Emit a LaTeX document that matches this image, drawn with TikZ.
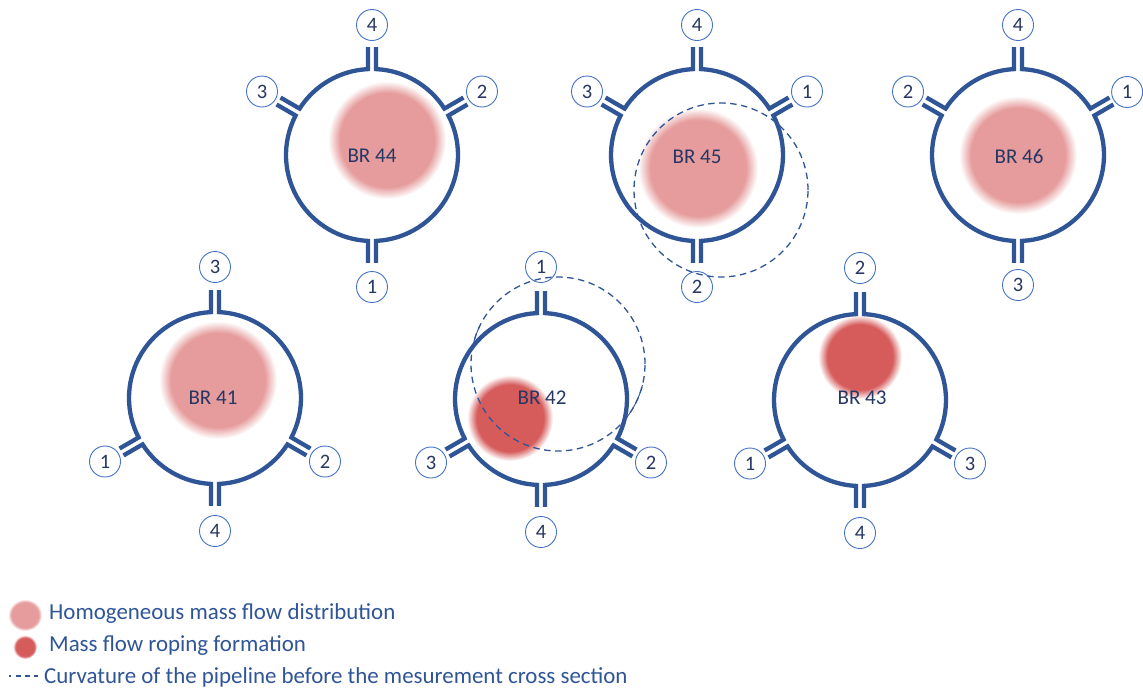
\documentclass[tikz,border=0pt]{standalone}
\usepackage{fontspec}
\setmainfont{Carlito}
\usetikzlibrary{calc}

\definecolor{pipeblue}{RGB}{47,85,151}
\definecolor{ringblue}{RGB}{68,114,196}
\definecolor{navytext}{RGB}{38,55,100}
\definecolor{legendtext}{RGB}{47,85,151}
\definecolor{blobLight}{RGB}{230,156,156}
\definecolor{blobDark}{RGB}{214,92,92}

% soft-edged blobs: solid core, fading to white at the rim of the shaded path
\pgfdeclareradialshading{lightblob}{\pgfpointorigin}{%
  color(0bp)=(blobLight); color(20bp)=(blobLight);
  color(25bp)=(white); color(50bp)=(white)}
\pgfdeclareradialshading{darkblob}{\pgfpointorigin}{%
  color(0bp)=(blobDark); color(19.5bp)=(blobDark);
  color(25bp)=(white); color(50bp)=(white)}

% pipe geometry (1 unit = 1pt)
\def\PR{86}    % pipe radius
\def\PL{108}   % outer end of the port stubs
\def\si{2.67}  % half gap of a port on the pipe wall (deg)
\def\so{2.12}  % same half gap at the stub ends (deg)

\tikzset{
  pipe/.style={draw=pipeblue, line width=4.3pt, line join=miter},
  portnum/.style={circle, draw=ringblue, line width=0.9pt, fill=white,
    minimum size=31pt, inner sep=0pt, text=navytext,
    font=\fontsize{20.5}{22}\selectfont},
  brlabel/.style={text=navytext, font=\fontsize{21}{24}\selectfont, inner sep=0pt},
  bendcircle/.style={draw=pipeblue, line width=1.3pt, dash pattern=on 6.5pt off 4.5pt},
  legendtext/.style={anchor=west, text=legendtext, inner sep=0pt,
    font=\fontsize{22.9}{26}\selectfont}
}

% #1 centre name, #2 x, #3 y (downwards), #4 wall segments between ports,
% #5 angle/number/distance triples of the port numbers
\newcommand{\pipesection}[5]{%
  \begin{scope}[shift={(#2,-#3)}]
    \coordinate (#1) at (0,0);
    \foreach \a/\b in {#4} {
      \draw[pipe] (\a+\so:\PL) -- (\a+\si:\PR)
        arc[start angle=\a+\si, end angle=\b-\si, radius=\PR]
        -- (\b-\so:\PL);
    }
    \foreach \ang/\num/\dist in {#5} {
      \node[portnum] (#1-\num) at (\ang:\dist) {\num};
    }
  \end{scope}}

\begin{document}
\begin{tikzpicture}[x=1pt, y=1pt]
  \useasboundingbox[fill=white] (0,0) rectangle (1143,-689);

  % mass flow blobs (drawn first, under everything)
  \shade[shading=lightblob] (387,-140) circle (59);
  \shade[shading=lightblob] (698,-168) circle (60);
  \shade[shading=lightblob] (1018,-155) circle (59);
  \shade[shading=lightblob] (218,-380) circle (59);
  \shade[shading=darkblob]  (510,-418) circle (43);
  \shade[shading=darkblob]  (860,-357) circle (42);

  % upper row
  \pipesection{br44c}{372}{155}{30/90,90/150,150/270,270/390}{30/2/127,90/4/130,150/3/127,270/1/132}
  \pipesection{br45c}{697}{155}{30/90,90/150,150/270,270/390}{30/1/127,90/4/130,150/3/127,270/2/132}
  \pipesection{br46c}{1018}{155}{30/90,90/150,150/270,270/390}{30/1/126,90/4/130,150/2/127,270/3/130}
  % lower row
  \pipesection{br41c}{215}{398}{-30/90,90/210,210/270,270/330}{90/3/131,210/1/127,270/4/133,330/2/127}
  \pipesection{br42c}{541}{399}{-30/90,90/210,210/270,270/330}{90/1/132,210/3/127,270/4/133,330/2/127}
  \pipesection{br43c}{860}{400}{-30/90,90/210,210/270,270/330}{90/2/132,210/1/127,270/4/133,330/3/127}

  % section names
  \node[brlabel] (br44) at (372,-156) {BR 44};
  \node[brlabel] (br45) at (697,-157) {BR 45};
  \node[brlabel] (br46) at (1019,-156) {BR 46};
  \node[brlabel] (br41) at (213,-398) {BR 41};
  \node[brlabel] (br42) at (542,-398) {BR 42};
  \node[brlabel] (br43) at (862,-398) {BR 43};

  % curvature of the upstream pipeline
  \coordinate (bend45) at (721,-190);
  \coordinate (bend42) at (558,-364);
  \draw[bendcircle] (bend45) circle (87);
  \draw[bendcircle] (bend42) circle (87);
  \draw[pipeblue, line width=0.9pt]
    ($(bend42)+(154:87)$) arc[start angle=154, end angle=170, radius=87];
  \draw[pipeblue, line width=0.9pt]
    ($(bend42)+(-42:87)$) arc[start angle=-42, end angle=-14, radius=87];

  % legend
  \shade[shading=lightblob] (25,-615) ellipse (17 and 16);
  \shade[shading=darkblob]  (25,-647) ellipse (12 and 12);
  \coordinate (dashA) at (9,-676);
  \coordinate (dashB) at (38,-676);
  \draw[pipeblue, line width=1.3pt, dash pattern=on 1.5pt off 5pt on 5pt off 4pt on 5pt off 4pt on 5pt]
    (dashA) -- (dashB);
  \node[legendtext] (leg1) at (49,-614) {Homogeneous mass flow distribution};
  \node[legendtext] (leg2) at (49,-646) {Mass flow roping formation};
  \node[legendtext] (leg3) at (44,-677) {Curvature of the pipeline before the mesurement cross section};
\end{tikzpicture}
\end{document}
